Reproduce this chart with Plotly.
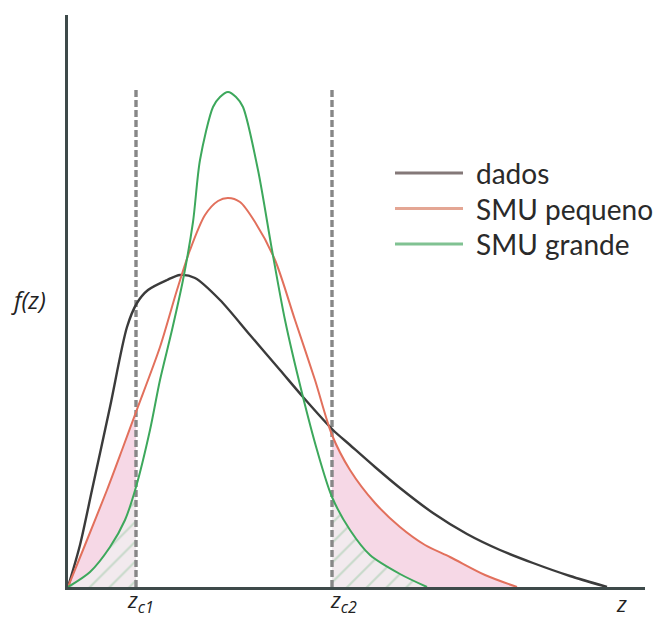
import plotly.graph_objects as go

# critical values (z units)
ZC1 = 0.68
ZC2 = 2.64

# "dados" curve
dados_z = [0, 0.12, 0.24, 0.42, 0.59, 0.69, 0.80, 0.99, 1.12, 1.27, 1.52, 1.82, 2.12, 2.35, 2.65,
           2.82, 3.07, 3.32, 3.65, 3.99, 4.32, 4.65, 5.02, 5.39]
dados_f = [0, 0.42, 0.97, 1.80, 2.60, 2.84, 2.97, 3.07, 3.12, 3.09, 2.87, 2.52, 2.17, 1.90, 1.57,
           1.42, 1.20, 0.99, 0.74, 0.53, 0.37, 0.24, 0.11, 0]

# "SMU pequeno" curve
peq_z = [0, 0.17, 0.39, 0.54, 0.68, 0.92, 1.09, 1.22, 1.37, 1.50, 1.60, 1.72, 1.87, 2.07, 2.27,
         2.47, 2.64, 2.82, 3.07, 3.32, 3.57, 3.82, 4.17, 4.49]
peq_f = [0, 0.42, 0.97, 1.37, 1.75, 2.40, 2.97, 3.37, 3.72, 3.86, 3.89, 3.85, 3.65, 3.27, 2.67,
         2.07, 1.52, 1.17, 0.84, 0.60, 0.42, 0.30, 0.12, 0]

# "SMU grande" curve
gra_z = [0, 0.22, 0.42, 0.57, 0.68, 0.82, 0.92, 1.04, 1.15, 1.25, 1.32, 1.45, 1.52, 1.60, 1.68,
         1.75, 1.90, 2.04, 2.17, 2.34, 2.49, 2.64, 2.82, 3.02, 3.32, 3.59]
gra_f = [0, 0.15, 0.40, 0.67, 1.00, 1.57, 2.07, 2.57, 3.07, 3.65, 4.27, 4.80, 4.90, 4.95, 4.90,
         4.80, 4.17, 3.37, 2.67, 1.94, 1.37, 0.90, 0.57, 0.32, 0.13, 0]

legend_names = ["dados", "SMU pequeno", "SMU grande"]

C_DADOS = "#3b3b3b"
C_PEQ = "#e2705c"
C_GRA = "#3da85c"
C_LEG = ["#847878", "#e4a694", "#80c292"]
PINK = "rgba(245,212,227,0.9)"

fig = go.Figure()

def seg(zs, fs, cond):
    zz = [z for z, f in zip(zs, fs) if cond(z)]
    ff = [f for z, f in zip(zs, fs) if cond(z)]
    return zz, ff

SM = 0.8

# pink fill under SMU pequeno, outside critical values
for cond in (lambda z: z <= ZC1 + 1e-9, lambda z: z >= ZC2 - 1e-9):
    zz, ff = seg(peq_z, peq_f, cond)
    fig.add_trace(go.Scatter(x=zz, y=ff, mode="lines", line=dict(width=0, shape="spline", smoothing=SM),
                             fill="tozeroy", fillcolor=PINK, hoverinfo="skip", showlegend=False))

# hatched fill under SMU grande, outside critical values
for cond in (lambda z: z <= ZC1 + 1e-9, lambda z: z >= ZC2 - 1e-9):
    zz, ff = seg(gra_z, gra_f, cond)
    fig.add_trace(go.Scatter(x=zz, y=ff, mode="lines", line=dict(width=0, shape="spline", smoothing=SM),
                             fill="tozeroy", fillcolor="rgba(240,234,238,1)",
                             fillpattern=dict(shape="/", fgcolor="#9cc9a6", bgcolor="rgba(242,234,238,1)",
                                              size=14, solidity=0.15),
                             hoverinfo="skip", showlegend=False))

# dashed critical lines
for zc in (ZC1, ZC2):
    fig.add_trace(go.Scatter(x=[zc, zc], y=[0, 4.97], mode="lines",
                             line=dict(color="#878787", width=3.4, dash="7px,3px"),
                             hoverinfo="skip", showlegend=False))

# curves
fig.add_trace(go.Scatter(x=dados_z, y=dados_f, mode="lines", name=legend_names[0],
                         line=dict(color=C_DADOS, width=2.4, shape="spline", smoothing=SM), showlegend=False))
fig.add_trace(go.Scatter(x=peq_z, y=peq_f, mode="lines", name=legend_names[1],
                         line=dict(color=C_PEQ, width=2, shape="spline", smoothing=SM), showlegend=False))
fig.add_trace(go.Scatter(x=gra_z, y=gra_f, mode="lines", name=legend_names[2],
                         line=dict(color=C_GRA, width=2, shape="spline", smoothing=SM), showlegend=False))

# manual legend
shapes = []
annotations = []
for i, name in enumerate(legend_names):
    y = 4.14 - 0.355 * i
    shapes.append(dict(type="line", xref="x", yref="y", x0=3.27, x1=3.95, y0=y, y1=y,
                       line=dict(color=C_LEG[i], width=3)))
    annotations.append(dict(x=4.06, y=y, xref="x", yref="y", text=name, showarrow=False,
                            xanchor="left", yanchor="middle",
                            font=dict(family="Lato", size=28, color="#2a2a2a")))

lab_font = dict(family="Open Sans", size=24, color="#222222")
sub_font = dict(family="Open Sans", size=22, color="#222222")
annotations += [
    dict(x=-0.069, y=0.502, xref="paper", yref="paper", text="<i>f(z)</i>", showarrow=False,
         xanchor="center", yanchor="middle", font=lab_font),
    dict(x=0.125, y=-0.058, xref="paper", yref="paper",
         text="<i>z<sub><span style='font-size:16px'>c1</span></sub></i>", showarrow=False,
         xanchor="center", yanchor="bottom", font=sub_font),
    dict(x=0.477, y=-0.058, xref="paper", yref="paper",
         text="<i>z<sub><span style='font-size:16px'>c2</span></sub></i>", showarrow=False,
         xanchor="center", yanchor="bottom", font=sub_font),
    dict(x=0.960, y=-0.058, xref="paper", yref="paper", text="<i>z</i>", showarrow=False,
         xanchor="center", yanchor="bottom", font=sub_font),
]

axis_common = dict(showgrid=False, zeroline=False, showticklabels=False, ticks="",
                   showline=True, linecolor="#3e4a4a", linewidth=2.5)
fig.update_layout(
    width=660, height=619,
    margin=dict(l=68, r=15, t=15, b=32),
    paper_bgcolor="white", plot_bgcolor="white",
    xaxis=dict(range=[0, 5.77], **axis_common),
    yaxis=dict(range=[0, 5.72], **axis_common),
    shapes=shapes, annotations=annotations,
)

fig.write_html("out.html")
